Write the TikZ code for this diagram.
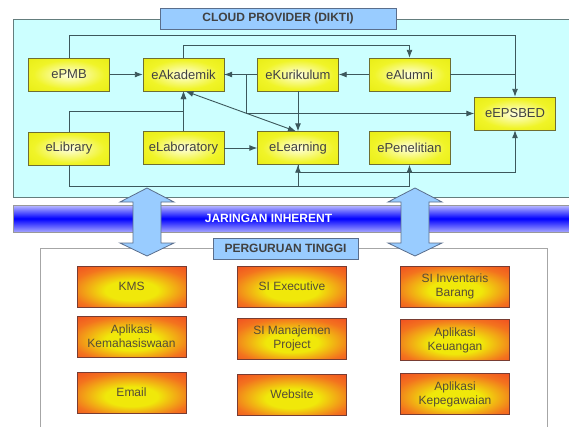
\documentclass[tikz,border=0pt]{standalone}
\usepackage{fontspec}
\setmainfont{Liberation Sans}
\usetikzlibrary{positioning,arrows.meta}

\definecolor{cloudfill}{RGB}{204,255,255}
\definecolor{cloudline}{RGB}{100,125,125}
\definecolor{tagfill}{RGB}{153,204,255}
\definecolor{tagline}{RGB}{90,110,140}
\definecolor{yedge}{RGB}{225,230,0}
\definecolor{ymid}{RGB}{240,244,40}
\definecolor{ycentre}{RGB}{255,255,225}
\definecolor{yline}{RGB}{110,110,50}
\definecolor{redge}{RGB}{240,55,35}
\definecolor{rmid}{RGB}{243,115,30}
\definecolor{rcentre}{RGB}{240,232,10}
\definecolor{rline}{RGB}{120,60,50}
\definecolor{linkcol}{RGB}{60,88,92}
\definecolor{boxtext}{RGB}{65,65,65}
\definecolor{rtext}{RGB}{85,75,55}

\pgfdeclareradialshading{yglow}{\pgfpointorigin}{color(0bp)=(ycentre); color(22bp)=(ymid); color(50bp)=(yedge)}
\pgfdeclareradialshading{rglow}{\pgfpoint{0bp}{-6bp}}{color(0bp)=(rcentre); color(12bp)=(rcentre); color(28bp)=(rmid); color(44bp)=(redge); color(60bp)=(redge)}

\tikzset{
  ybox/.style={draw=yline, rectangle, minimum width=81pt, minimum height=33pt,
    inner sep=0pt, shading=yglow, text=boxtext,
    font=\fontsize{13}{15}\selectfont},
  rbox/.style={draw=rline, rectangle, minimum width=109pt, minimum height=41pt,
    inner sep=0pt, shading=rglow, text=rtext,
    align=center, font=\fontsize{12}{14}\selectfont},
  tag/.style={draw=tagline, fill=tagfill, rectangle, inner sep=0pt,
    minimum height=21pt, text=boxtext, font=\fontsize{12}{14}\selectfont\bfseries},
  link/.style={draw=linkcol, line width=0.9pt},
  bigarrow/.style={draw=tagline, fill=tagfill, line width=0.8pt, line join=miter},
}

\begin{document}
\begin{tikzpicture}[x=1pt, y=-1pt, >={Latex[length=8pt,width=6pt]}]
        \useasboundingbox (0,0) rectangle (569,426);
        % Cloud area
        \draw[draw=cloudline, fill=cloudfill, line width=0.8pt] (13,19) rectangle (575,197);
        \node[tag, minimum width=236pt] (cloud) at (278,18.5) {CLOUD PROVIDER (DIKTI)};
        % Nodes
        \node[ybox] (ePMB) at (69,74.5) {ePMB};
        \node[ybox, right of=ePMB, node distance=114.5pt] (eAkademik) {eAkademik};
        \node[ybox, right of=eAkademik, node distance=114.5pt] (eKurikulum) {eKurikulum};
        \node[ybox, right of=eKurikulum, node distance=111.5pt] (eAlumni) {eAlumni};
        \node[ybox, below of=ePMB, node distance=74pt] (eLibrary) {eLibrary};
        \node[ybox, below of=eAkademik, node distance=73.5pt] (eLaboratory) {eLaboratory};
        \node[ybox, below of=eKurikulum, node distance=73.5pt] (eLearning) {eLearning};
        \node[ybox, below of=eAlumni, node distance=73.5pt] (ePenelitian) {ePenelitian};
        \node[ybox] (eEPSBED) at (515,113.5) {eEPSBED};
        % Arrows
        \draw[link, ->] (ePMB.north) -- ++(0,-22) -| (eEPSBED.north);
        \draw[link, ->] (eAkademik.north) -- ++(0,-12) -| (eAlumni.north);
        \draw[link] (eAlumni) -- (eAlumni -| eEPSBED);
        \draw[link, ->] (ePMB) -- (eAkademik);
        \draw[link, ->] (eKurikulum) -- (eAkademik);
        \draw[link, ->] (eAlumni) -- (eKurikulum);
        \draw[link, ->] (eAkademik.east) -- ++(22,0) |- (eEPSBED.west);
        \draw[link, ->] (eKurikulum) -- (eLearning);
        \draw[link, <->] ([xshift=2pt]eAkademik.south) -- ([xshift=-2pt]eLearning.north);
        \draw[link, ->] (eLaboratory) -- (eAkademik);
        \draw[link, ->] (eLibrary.north) -- ++(0,-20) -| (eAkademik.south);
        \draw[link, ->] (eLaboratory) -- (eLearning);
        \draw[link, ->] (eLibrary.south) -- ++(0,21) -| (eLearning.south);
        \draw[link, ->] (eLibrary.south) -- ++(0,21) -| (ePenelitian.south);
        \draw[link, ->] (eLearning.south) -- ++(0,8) -| (eEPSBED.south);
        % Network band
        \draw[draw=black!40, line width=0.8pt, top color=blue!25, bottom color=blue!35,
          middle color=blue] (13,205) rectangle (575,232);
        \node[text=white, font=\fontsize{12}{14}\selectfont\bfseries] (net) at (268.5,218.5) {JARINGAN INHERENT};
        % Campus area
        \draw[draw=black!35, fill=white, line width=1pt] (40,248) rectangle (547,432);
        \node[tag, minimum width=145pt] (campus) at (285.5,248.5) {PERGURUAN TINGGI};
        \draw[bigarrow] (147,188) -- (174,202) -- (161,202) -- (161,243) -- (174,243) -- (147,256)
          -- (120,243) -- (133,243) -- (133,202) -- (120,202) -- cycle;
        \draw[bigarrow] (415,188) -- (442,202) -- (429,202) -- (429,243) -- (442,243) -- (415,256)
          -- (388,243) -- (401,243) -- (401,202) -- (388,202) -- cycle;
        % Applications
        \node[rbox] (kms) at (131.5,286.5) {KMS};
        \node[rbox, below of=kms, node distance=50pt] (kemahasiswaan) {Aplikasi\\Kemahasiswaan};
        \node[rbox, below of=kemahasiswaan, node distance=56pt] (email) {Email};
        \node[rbox, right of=kms, node distance=160.5pt] (executive) {SI Executive};
        \node[rbox, below of=executive, node distance=52pt] (manajemen) {SI Manajemen\\Project};
        \node[rbox, below of=manajemen, node distance=56pt] (website) {Website};
        \node[rbox, right of=executive, node distance=163pt] (inventaris) {SI Inventaris\\Barang};
        \node[rbox, below of=inventaris, node distance=53.5pt] (keuangan) {Aplikasi\\Keuangan};
        \node[rbox, below of=keuangan, node distance=54pt] (kepegawaian) {Aplikasi\\Kepegawaian};
    \end{tikzpicture}
\end{document}
